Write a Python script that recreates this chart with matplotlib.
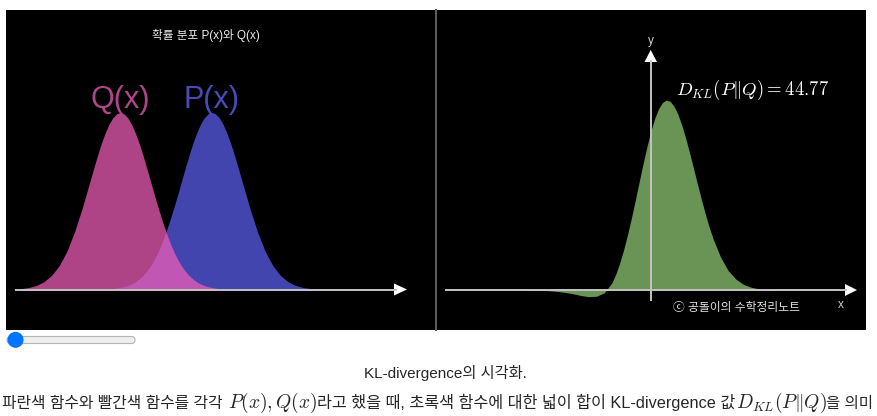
import matplotlib
matplotlib.use("Agg")
import matplotlib.pyplot as plt
from matplotlib.patches import Rectangle, FancyBboxPatch, Circle, Polygon

plt.rcParams['mathtext.fontset'] = 'cm'

# ----- values -----
# left panel: x in units of sigma, heights relative to the peak height
dist_x = [-5.0, -4.75, -4.5, -4.25, -4.0, -3.75, -3.5, -3.25, -3.0, -2.75,
          -2.5, -2.375, -2.25, -2.125, -2.0, -1.875, -1.75, -1.625, -1.5, -1.375,
          -1.25, -1.125, -1.0, -0.875, -0.75, -0.625, -0.5, -0.375, -0.25, -0.125,
          0.0, 0.125, 0.25, 0.375, 0.5, 0.625, 0.75, 0.875, 1.0, 1.125,
          1.25, 1.375, 1.5, 1.625, 1.75, 1.875, 2.0, 2.125, 2.25, 2.375, 2.5,
          2.75, 3.0, 3.25, 3.5, 3.75, 4.0, 4.25, 4.5, 4.75, 5.0]
q_vals = [0.002, 0.005, 0.011, 0.023, 0.044, 0.080, 0.135, 0.216, 0.325, 0.458,
          0.607, 0.682, 0.755, 0.823, 0.882, 0.932, 0.969, 0.992, 1.000, 0.992,
          0.969, 0.932, 0.882, 0.823, 0.755, 0.682, 0.607, 0.531, 0.458, 0.389,
          0.325, 0.267, 0.216, 0.172, 0.135, 0.105, 0.080, 0.060, 0.044, 0.032,
          0.023, 0.016, 0.011, 0.008, 0.005, 0.003, 0.002, 0.001, 0.001, 0.001, 0,
          0, 0, 0, 0, 0, 0, 0, 0, 0, 0]
p_vals = [0, 0, 0, 0, 0, 0, 0, 0, 0, 0,
          0, 0.001, 0.001, 0.001, 0.002, 0.003, 0.005, 0.008, 0.011, 0.016,
          0.023, 0.032, 0.044, 0.060, 0.080, 0.105, 0.135, 0.172, 0.216, 0.267,
          0.325, 0.389, 0.458, 0.531, 0.607, 0.682, 0.755, 0.823, 0.882, 0.932,
          0.969, 0.992, 1.000, 0.992, 0.969, 0.932, 0.882, 0.823, 0.755, 0.682, 0.607,
          0.458, 0.325, 0.216, 0.135, 0.080, 0.044, 0.023, 0.011, 0.005, 0.002]

# right panel: integrand p*log(p/q), relative to its peak
kl_x = [-4.0, -3.75, -3.5, -3.25, -3.0, -2.75, -2.5, -2.25, -2.0, -1.75,
        -1.5, -1.25, -1.125, -1.0, -0.875, -0.75, -0.625, -0.5, -0.375, -0.25,
        -0.125, 0.0, 0.125, 0.25, 0.375, 0.5, 0.625, 0.75, 0.875, 1.0,
        1.125, 1.25, 1.375, 1.5, 1.625, 1.75, 1.875, 2.0,
        2.25, 2.5, 2.75, 3.0, 3.25, 3.5, 3.75, 4.0]
kl_vals = [-0.001, -0.001, -0.002, -0.004, -0.008, -0.013, -0.020, -0.029, -0.035, -0.033,
           -0.015, 0.038, 0.084, 0.142, 0.211, 0.290, 0.377, 0.471, 0.567, 0.662,
           0.752, 0.833, 0.901, 0.953, 0.986, 1.000, 0.993, 0.968, 0.926, 0.869,
           0.801, 0.724, 0.644, 0.562, 0.483, 0.407, 0.337, 0.275,
           0.174, 0.102, 0.057, 0.029, 0.014, 0.006, 0.003, 0.001]
kl_value = 44.77

labels = ['Q(x)', 'P(x)']

TEXT_FONT = ['Liberation Sans', 'Noto Sans CJK KR', 'DejaVu Sans']
W, H = 878, 416


def pt(v):
    # pixel size -> points at 100 dpi
    return v * 0.72


def pixel_axes(zorder):
    ax = fig.add_axes([0, 0, 1, 1], zorder=zorder)
    ax.set_xlim(0, W)
    ax.set_ylim(H, 0)
    ax.axis('off')
    return ax


def panel(x0, x1, y0, y1, ox, oy, sx, sy):
    # data axes over a pixel box; (ox, oy) is the data origin, sx/sy pixels per unit
    ax = fig.add_axes([x0 / W, 1 - y1 / H, (x1 - x0) / W, (y1 - y0) / H], zorder=1)
    ax.set_xlim((x0 - ox) / sx, (x1 - ox) / sx)
    ax.set_ylim((oy - y1) / sy, (oy - y0) / sy)
    ax.axis('off')
    return ax


fig = plt.figure(figsize=(W / 100, H / 100), dpi=100)
fig.patch.set_facecolor('white')

# ----- page background -----
page = pixel_axes(0)
page.add_patch(Rectangle((6, 10), 860, 320, color='black', lw=0))
page.plot([436, 436], [10, 330], color='#5c5c5c', lw=pt(2))

# ----- left panel: P and Q -----
left = panel(6, 435, 10, 330, 166, 289.5, 30.5, 177)
left.fill_between(dist_x, 0, p_vals, color=(94/255, 97/255, 243/255), alpha=0.72, lw=0)
left.fill_between(dist_x, 0, q_vals, color=(243/255, 94/255, 185/255), alpha=0.72, lw=0)
for name, vals, col in [(labels[0], q_vals, '#b0458a'), (labels[1], p_vals, '#4a4ab8')]:
    i = vals.index(max(vals))
    left.annotate(name, xy=(dist_x[i], vals[i]), xytext=(0, 12), textcoords='offset pixels',
                  ha='center', va='center', fontsize=22, color=col,
                  family='Liberation Sans', zorder=5)

# ----- right panel: p log(p/q) -----
right = panel(437, 866, 10, 330, 650.7, 290, 31, 190)
right.fill_between(kl_x, 0, kl_vals, color='#699455', lw=0)

# ----- axes, arrows and texts on top -----
top = pixel_axes(2)
axis_col = '#c4c4c4'
top.plot([16, 396], [289.5, 289.5], color=axis_col, lw=1.4)
top.add_patch(Polygon([(394, 283.5), (407, 289.5), (394, 295.5)], color='white', lw=0))
top.plot([446, 846], [290, 290], color=axis_col, lw=1.4)
top.add_patch(Polygon([(845, 284), (857, 290), (845, 296)], color='white', lw=0))
top.plot([650.7, 650.7], [300, 61], color=axis_col, lw=1.4)
top.add_patch(Polygon([(644.5, 62), (650.7, 50), (657, 62)], color='white', lw=0))

top.text(206, 35.5, '확률 분포 P(x)와 Q(x)', ha='center', va='center',
         fontsize=8.4, color='#eeeeee', family=TEXT_FONT)
top.text(651, 41, 'y', ha='center', va='center', fontsize=8.5, color='#d0d0d0',
         family='Liberation Sans')
top.text(841, 305, 'x', ha='center', va='center', fontsize=8.5, color='#d0d0d0',
         family='Liberation Sans')
top.text(676, 90, r'$D_{KL}(P\Vert Q) = %.2f$' % kl_value, ha='left', va='center',
         fontsize=13.5, color='white')
top.text(673, 308, 'ⓒ 공돌이의 수학정리노트', ha='left', va='center',
         fontsize=8.5, color='#e2e2e2', family=TEXT_FONT)

# ----- slider -----
page.add_patch(FancyBboxPatch((7, 336.5), 128, 7, boxstyle='round,pad=0,rounding_size=3.5',
                              fc='#efefef', ec='#b5b5b5', lw=0.8))
page.add_patch(Circle((15.5, 339.8), 8, fc='#0075ff', ec='none'))

# ----- caption below -----
ink = '#262626'
page.text(445, 378, 'KL-divergence의 시각화.', ha='center', va='baseline',
          fontsize=11, color=ink, family=TEXT_FONT)
pieces = [
    (2, '파란색 함수와 빨간색 함수를 각각', False, 11.4),
    (228, r'$P(x), Q(x)$', True, 14),
    (317, '라고 했을 때, 초록색 함수에 대한 넓이 합이 KL-divergence 값', False, 11.7),
    (736, r'$D_{KL}(P\Vert Q)$', True, 14),
    (826, '을 의미', False, 11.2),
]
for x0, s, is_math, size in pieces:
    if is_math:
        page.text(x0, 408, s, ha='left', va='baseline', fontsize=size, color=ink)
    else:
        page.text(x0, 408, s, ha='left', va='baseline', fontsize=size, color=ink,
                  family=TEXT_FONT)

fig.savefig('out.png', dpi=100, facecolor='white')
